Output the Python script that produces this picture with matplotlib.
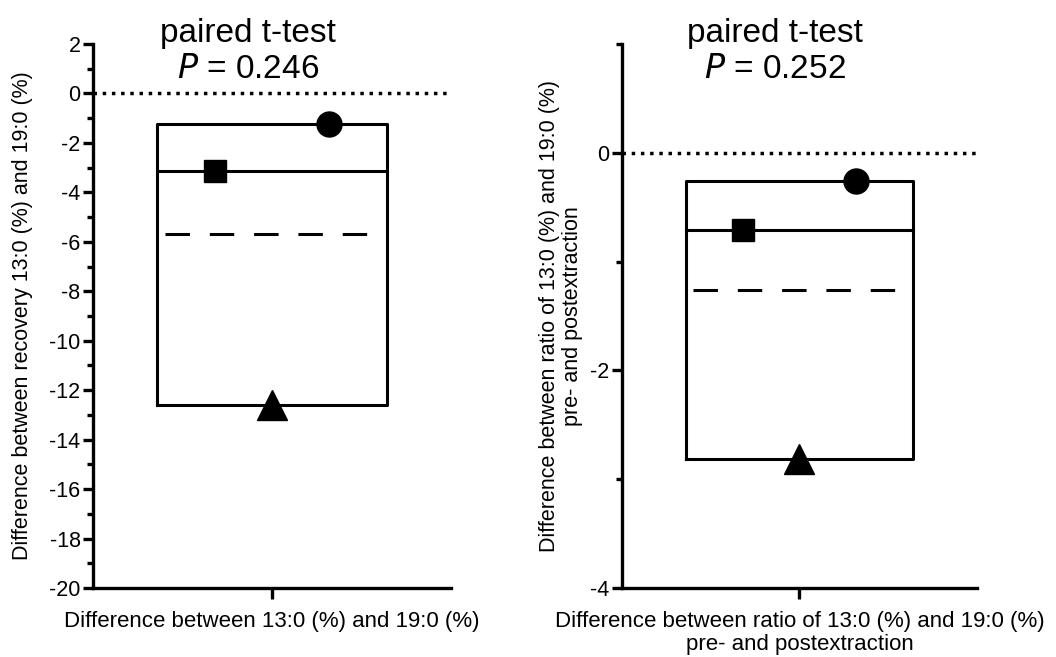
import matplotlib.pyplot as plt
import numpy as np

plt.rcParams['font.family'] = ['Liberation Sans', 'DejaVu Sans']

# values: circle, square, triangle
markers = ['o', 's', '^']
marker_sizes = [18, 16, 22]
x_offsets = [0.32, -0.32, 0.0]

recovery_diff = [-1.25, -3.15, -12.6]
ratio_diff = [-0.26, -0.71, -2.81]

p_values = [0.246, 0.252]
ylabels = ['Difference between recovery 13:0 (%) and 19:0 (%)',
           'Difference between ratio of 13:0 (%) and 19:0 (%)\npre- and postextraction']
xlabels = ['Difference between 13:0 (%) and 19:0 (%)',
           'Difference between ratio of 13:0 (%) and 19:0 (%)\npre- and postextraction']
ylims = [(-20, 2), (-4, 1)]
major_ticks = [np.arange(-20, 3, 2), [-4, -2, 0]]
minor_ticks = [np.arange(-19, 2, 2), [-3, -1, 1]]

fig = plt.figure(figsize=(10.56, 6.57), dpi=100)
ax1 = fig.add_axes([0.0881, 0.105, 0.339, 0.828])
ax2 = fig.add_axes([0.589, 0.105, 0.336, 0.828])
title_x = [248 / 1056, 775 / 1056]
ylabel_x = [-0.168, -0.11]

for i, (ax, vals) in enumerate(zip([ax1, ax2], [recovery_diff, ratio_diff])):
    lo, hi = min(vals), max(vals)
    med = np.median(vals)
    mean = np.mean(vals)
    half = 0.64

    # box from min to max, median solid, mean dashed
    ax.plot([1 - half, 1 + half, 1 + half, 1 - half, 1 - half],
            [lo, lo, hi, hi, lo], color='black', lw=2.2, zorder=2)
    ax.plot([1 - half, 1 + half], [med, med], color='black', lw=2.2, zorder=2)
    ax.plot([1 - half + 0.04, 1 + half], [mean, mean], color='black', lw=2.2,
            dashes=(8, 6.5), zorder=2)
    ax.axhline(0, color='black', lw=2.5, ls=':', zorder=1)

    for v, m, ms, dx in zip(vals, markers, marker_sizes, x_offsets):
        ax.plot(1 + dx, v, marker=m, markersize=ms, color='black', ls='none', zorder=3)

    ax.set_xlim(0, 2)
    ax.set_ylim(*ylims[i])
    ax.set_xticks([1])
    ax.set_xticklabels([''])
    ax.set_yticks(major_ticks[i])
    ax.set_yticks(minor_ticks[i], minor=True)
    ax.set_yticklabels([str(int(t)) for t in major_ticks[i]])

    for s in ['top', 'right']:
        ax.spines[s].set_visible(False)
    for s in ['left', 'bottom']:
        ax.spines[s].set_linewidth(2.4)
    ax.tick_params(axis='y', which='major', length=7, width=2.4, labelsize=15.5, pad=2)
    ax.tick_params(axis='y', which='minor', length=4, width=2.4)
    ax.tick_params(axis='x', which='major', length=8, width=2.4)

    ax.set_ylabel(ylabels[i], fontsize=15.5, linespacing=1.1)
    ax.yaxis.set_label_coords(ylabel_x[i], 0.5)
    ax.set_xlabel(xlabels[i], fontsize=16, labelpad=5, linespacing=1.12)

    fig.text(title_x[i], 1 - 18 / 657, 'paired t-test\n$P$ = %.3f' % p_values[i],
             ha='center', va='top', fontsize=24, linespacing=1.2)

fig.savefig('out.png', dpi=100)
